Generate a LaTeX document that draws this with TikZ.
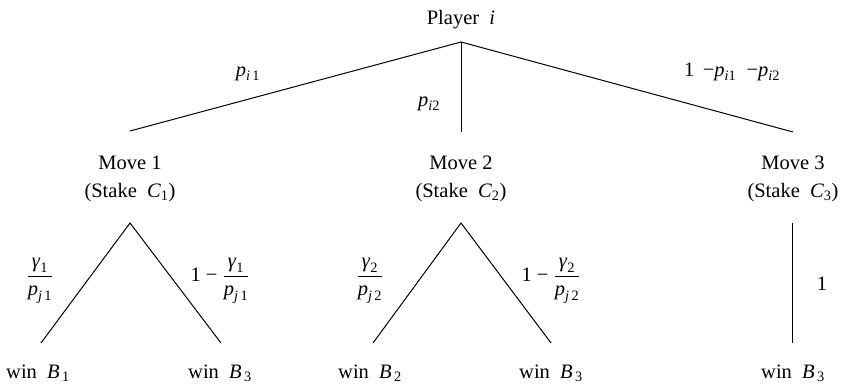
\documentclass[tikz,border=0pt]{standalone}
\usepackage{amsmath}
\usepackage{fontspec}
\setmainfont{Liberation Serif}
\newcommand\mi[1]{\textit{#1}}
\newcommand\pp[2]{\mi{p}$_{\text{\mi{#1}#2}}$}
\newcommand\fr[2]{$\dfrac{\text{\mi{γ}}_{\text{#2}}}{\text{\mi{p}}_{\text{\mi{#1}\,#2}}}$}
\begin{document}
\begin{tikzpicture}[x=1pt,y=-1pt,
  lbl/.style={inner sep=0pt,font=\fontsize{20.5}{25}\selectfont},
  bl/.style={lbl,anchor=base},
  edge/.style={line width=1pt}]
\useasboundingbox (0,0) rectangle (841,385);
% root
\node[bl] (root) at (461,25) {Player \ \mi{i}};
\coordinate (r) at (461,42);
\coordinate (m1t) at (130,131);
\coordinate (m2t) at (461,132);
\coordinate (m3t) at (793,132);
\draw[edge] (m1t) -- (r) -- (m3t);
\draw[edge] (r) -- (m2t);
\node[bl] (l1) at (248,77) {\pp{i}{\,1}};
\node[bl] (l2) at (429,107) {\pp{i}{2}};
\node[bl] (l3) at (732,77) {1 \,−\pp{i}{1} \ −\pp{i}{2}};
% move nodes
\node[bl] (mv1) at (130,170) {Move 1};
\node[bl] (st1) at (130,197) {(Stake \ \mi{C}$_{\text{1}}$)};
\node[bl] (mv2) at (461,170) {Move 2};
\node[bl] (st2) at (461,197) {(Stake \ \mi{C}$_{\text{2}}$)};
\node[bl] (mv3) at (793,170) {Move 3};
\node[bl] (st3) at (793,197) {(Stake \ \mi{C}$_{\text{3}}$)};
% move 1 subtree
\coordinate (a1) at (130,223);
\coordinate (a1l) at (41,343);
\coordinate (a1r) at (221,343);
\draw[edge] (a1l) -- (a1) -- (a1r);
\node[lbl] (f1) at (40,281) {\fr{j}{1}};
\node[lbl] (g1) at (220,281) {1 − \fr{j}{1}};
\node[bl] (w11) at (38,378) {win \ \mi{B}$_{\text{\,1}}$};
\node[bl] (w13) at (220,378) {win \ \mi{B}$_{\text{\,3}}$};
% move 2 subtree
\coordinate (a2) at (461,223);
\coordinate (a2l) at (373,343);
\coordinate (a2r) at (551,343);
\draw[edge] (a2l) -- (a2) -- (a2r);
\node[lbl] (f2) at (370,281) {\fr{j}{2}};
\node[lbl] (g2) at (551,281) {1 − \fr{j}{2}};
\node[bl] (w22) at (370,378) {win \ \mi{B}$_{\text{\,2}}$};
\node[bl] (w23) at (551,378) {win \ \mi{B}$_{\text{\,3}}$};
% move 3 subtree
\coordinate (a3) at (792,223);
\coordinate (a3b) at (792,343);
\draw[edge] (a3) -- (a3b);
\node[lbl] (o3) at (822,284) {1};
\node[bl] (w33) at (793,378) {win \ \mi{B}$_{\text{\,3}}$};
\end{tikzpicture}
\end{document}
